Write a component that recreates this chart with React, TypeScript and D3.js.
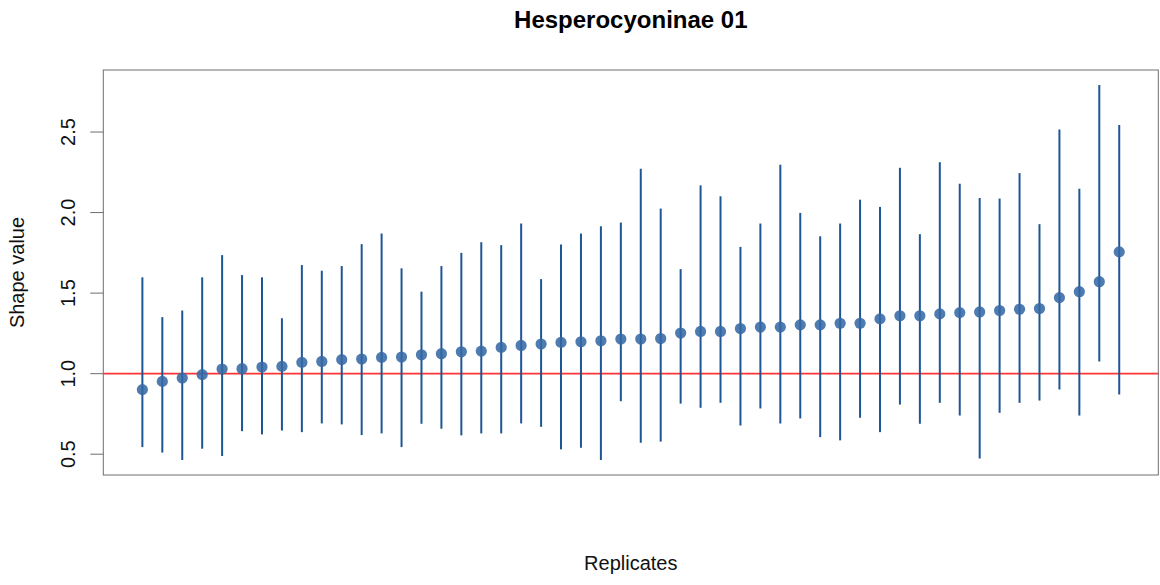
import React from "react";
import * as d3 from "d3";

const replicates = d3.range(1, 51);
const estimates = [
  0.901, 0.952, 0.973, 0.994, 1.029, 1.031, 1.041, 1.045, 1.070, 1.076,
  1.087, 1.091, 1.101, 1.103, 1.117, 1.124, 1.136, 1.140, 1.163, 1.175,
  1.184, 1.194, 1.198, 1.204, 1.215, 1.215, 1.218, 1.252, 1.262, 1.262,
  1.280, 1.289, 1.289, 1.303, 1.303, 1.313, 1.313, 1.340, 1.359, 1.359,
  1.371, 1.379, 1.383, 1.392, 1.400, 1.404, 1.472, 1.509, 1.571, 1.756,
];
const upper = [
  1.598, 1.351, 1.392, 1.598, 1.736, 1.612, 1.598, 1.344, 1.674, 1.639,
  1.668, 1.804, 1.870, 1.654, 1.509, 1.668, 1.750, 1.816, 1.798, 1.932,
  1.587, 1.802, 1.870, 1.915, 1.938, 2.272, 2.025, 1.649, 2.169, 2.101,
  1.787, 1.932, 2.297, 1.998, 1.853, 1.932, 2.080, 2.035, 2.278, 1.866,
  2.313, 2.179, 2.091, 2.087, 2.245, 1.928, 2.515, 2.148, 2.792, 2.544,
];
const lower = [
  0.544, 0.510, 0.464, 0.534, 0.489, 0.643, 0.623, 0.647, 0.637, 0.691,
  0.685, 0.619, 0.629, 0.544, 0.689, 0.658, 0.617, 0.629, 0.629, 0.691,
  0.670, 0.530, 0.540, 0.464, 0.829, 0.571, 0.578, 0.814, 0.788, 0.819,
  0.678, 0.784, 0.691, 0.722, 0.606, 0.586, 0.726, 0.637, 0.808, 0.689,
  0.819, 0.740, 0.474, 0.757, 0.819, 0.833, 0.901, 0.740, 1.076, 0.870,
];
const yTicks = [0.5, 1.0, 1.5, 2.0, 2.5];
const refValue = 1.0;
const title = "Hesperocyoninae 01";
const xLabel = "Replicates";
const yLabel = "Shape value";

export default function App() {
  const W = 1160, H = 585;
  const left = 103.3, right = 1158.3, top = 70, bottom = 475;
  const xExt = (replicates.length - 1) * 0.04;
  const x = d3.scaleLinear().domain([1 - xExt, replicates.length + xExt]).range([left, right]);
  const yMin = d3.min(lower)!, yMax = d3.max(upper)!;
  const yExt = (yMax - yMin) * 0.04;
  const y = d3.scaleLinear().domain([yMin - yExt, yMax + yExt]).range([bottom, top]);
  const font = "Liberation Sans, Arial, Helvetica, sans-serif";
  const axisColor = "#6e6e6e";
  return (
    <div style={{ position: "absolute", left: 0, top: 0 }}>
      <svg width={W} height={H} style={{ display: "block", background: "#fff" }} fontFamily={font}>
        <text x={(left + right) / 2} y={28} textAnchor="middle" fontSize={24} fontWeight="bold" fill="#000">{title}</text>
        <line x1={left} x2={right} y1={y(refValue)} y2={y(refValue)} stroke="#ff3535" strokeWidth={1.6} />
        {replicates.map((r, i) => (
          <g key={r}>
            <line x1={x(r)} x2={x(r)} y1={y(lower[i])} y2={y(upper[i])} stroke="#1f5595" strokeWidth={2} />
            <circle cx={x(r)} cy={y(estimates[i])} r={5.6} fill="#3569a5" fillOpacity={0.88} />
          </g>
        ))}
        <rect x={left} y={top} width={right - left} height={bottom - top} fill="none" stroke={axisColor} strokeWidth={1} />
        {yTicks.map((t) => (
          <g key={t}>
            <line x1={left - 13} x2={left} y1={y(t)} y2={y(t)} stroke={axisColor} strokeWidth={1} />
            <text transform={`translate(75,${y(t)}) rotate(-90)`} textAnchor="middle" fontSize={20} fill="#111">{t.toFixed(1)}</text>
          </g>
        ))}
        <text transform={`translate(24,${(top + bottom) / 2}) rotate(-90)`} textAnchor="middle" fontSize={20} fill="#111">{yLabel}</text>
        <text x={(left + right) / 2} y={570} textAnchor="middle" fontSize={20} fill="#111">{xLabel}</text>
      </svg>
    </div>
  );
}
